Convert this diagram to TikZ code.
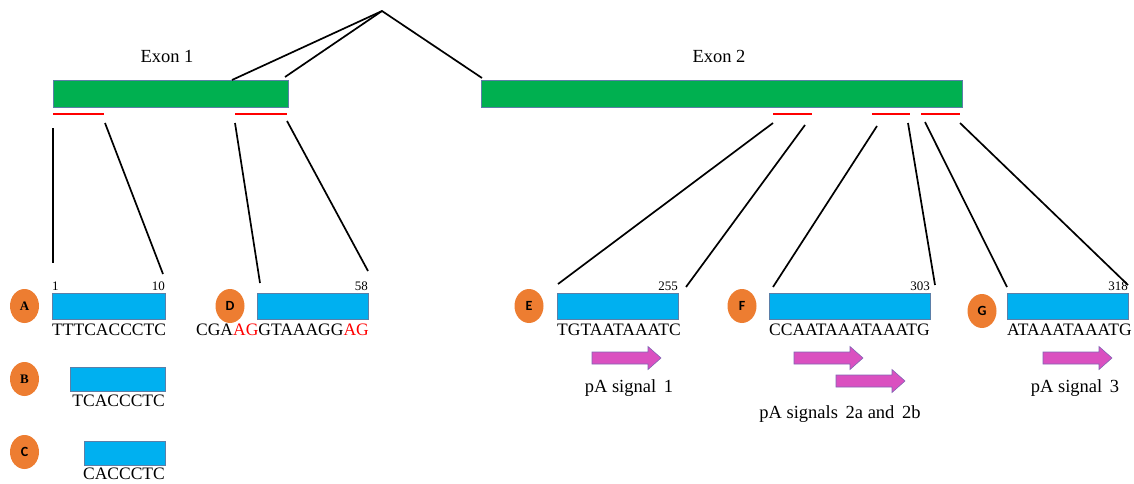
\documentclass[tikz,border=0pt]{standalone}
\usepackage{fontspec}
\setmainfont{Liberation Serif}
\newfontfamily\badgesf{Carlito}
\usetikzlibrary{shapes.geometric}
\definecolor{exongreen}{HTML}{00B050}
\definecolor{seqblue}{HTML}{00B0F0}
\definecolor{boxline}{HTML}{5B7FA8}
\definecolor{badgeorange}{HTML}{ED7D31}
\definecolor{pinkfill}{RGB}{218,80,192}
\definecolor{pinkline}{RGB}{130,100,180}
\definecolor{seqred}{HTML}{FF0000}
\tikzset{
  exonbox/.style={fill=exongreen, draw=boxline, line width=0.8pt, anchor=north west, inner sep=0, minimum height=27pt},
  seqbox/.style={fill=seqblue, draw=boxline, line width=0.8pt, anchor=north west, inner sep=0, minimum height=26pt},
  conn/.style={black, line width=1.7pt},
  redseg/.style={seqred, line width=2pt},
  badge/.style={ellipse, fill=badgeorange, minimum width=29pt, minimum height=34pt, inner sep=0, font=\badgesf\bfseries\fontsize{14}{14}\selectfont},
  badgeserif/.style={badge, font=\bfseries\fontsize{13}{13}\selectfont},
  seqtext/.style={font=\fontsize{17.5}{17.5}\selectfont, inner sep=0},
  numtext/.style={font=\fontsize{13}{13}\selectfont, inner sep=0},
  lbl/.style={font=\fontsize{18.5}{18.5}\selectfont, inner sep=0},
  pa/.pic={\filldraw[fill=pinkfill, draw=pinkline, line width=0.6pt] (0,-6) -- (56,-6) -- (56,-11.5) -- (69,0) -- (56,11.5) -- (56,6) -- (0,6) -- cycle;}
}
\begin{document}
\begin{tikzpicture}[x=1pt,y=-1pt]
\useasboundingbox (0,0) rectangle (1134,484);
% exons
\node[exonbox, minimum width=235pt] (ex1) at (53,80) {};
\node[exonbox, minimum width=481pt] (ex2) at (481,80) {};
\node[lbl, anchor=base] (ex1l) at (167,63) {Exon 1};
\node[lbl, anchor=base] (ex2l) at (719,63) {Exon 2};
% splice lines
\coordinate (apex) at (382,11);
\coordinate (s1) at (232,80);
\coordinate (s2) at (285,77);
\coordinate (s3) at (482,78);
\draw[conn] (s1) -- (apex) -- (s3);
\draw[conn] (s2) -- (apex);
% red segments
\draw[redseg] (53,114) -- (104,114);
\draw[redseg] (235,114) -- (287,114);
\draw[redseg] (773,114) -- (812,114);
\draw[redseg] (872,114) -- (910,114);
\draw[redseg] (921,114) -- (960,114);
% sequence boxes
\node[seqbox, minimum width=113pt] (bA) at (52,293) {};
\node[seqbox, minimum width=95pt, minimum height=24pt] (bB) at (70,367) {};
\node[seqbox, minimum width=81pt, minimum height=24pt] (bC) at (84,441) {};
\node[seqbox, minimum width=111pt] (bD) at (257,293) {};
\node[seqbox, minimum width=121pt] (bE) at (557,293) {};
\node[seqbox, minimum width=161pt] (bF) at (769,293) {};
\node[seqbox, minimum width=121pt] (bG) at (1007,293) {};
% connector ends
\coordinate (a1t) at (53,128);  \coordinate (a1b) at (53,263);
\coordinate (a2t) at (105,123); \coordinate (a2b) at (163,274);
\coordinate (d1t) at (235,123); \coordinate (d1b) at (260,283);
\coordinate (d2t) at (287,121); \coordinate (d2b) at (368,271);
\coordinate (e1t) at (773,123); \coordinate (e1b) at (558,284);
\coordinate (e2t) at (805,125); \coordinate (e2b) at (686,287);
\coordinate (f1t) at (877,126); \coordinate (f1b) at (773,287);
\coordinate (f2t) at (908,123); \coordinate (f2b) at (935,285);
\coordinate (g1t) at (925,122); \coordinate (g1b) at (1007,287);
\coordinate (g2t) at (960,123); \coordinate (g2b) at (1128,285);
\draw[conn] (a1t) -- (a1b);
\draw[conn] (a2t) -- (a2b);
\draw[conn] (d1t) -- (d1b);
\draw[conn] (d2t) -- (d2b);
\draw[conn] (e1t) -- (e1b);
\draw[conn] (e2t) -- (e2b);
\draw[conn] (f1t) -- (f1b);
\draw[conn] (f2t) -- (f2b);
\draw[conn] (g1t) -- (g1b);
\draw[conn] (g2t) -- (g2b);
% numbers
\node[numtext, anchor=base west] (n1) at (52,290) {1};
\node[numtext, anchor=base east] (n10) at (165,290) {10};
\node[numtext, anchor=base east] (n58) at (368,290) {58};
\node[numtext, anchor=base east] (n255) at (678,290) {255};
\node[numtext, anchor=base east] (n303) at (930,290) {303};
\node[numtext, anchor=base east] (n318) at (1128,290) {318};
% sequences
\node[seqtext, anchor=base west] (tA) at (52,335) {TTTCACCCTC};
\node[seqtext, anchor=base east] (tB) at (165,406) {TCACCCTC};
\node[seqtext, anchor=base east] (tC) at (165,479) {CACCCTC};
\node[seqtext, anchor=base east] (tD) at (369,335) {CGA\textcolor{seqred}{AG}GTAAAGG\textcolor{seqred}{AG}};
\node[seqtext, anchor=base west] (tE) at (557,335) {TGTAATAAATC};
\node[seqtext, anchor=base west] (tF) at (769,335) {CCAATAAATAAATG};
\node[seqtext, anchor=base west] (tG) at (1007,335) {ATAAATAAATG};
% badges
\node[badgeserif] (cA) at (24.5,306) {A};
\node[badgeserif] (cB) at (24.5,379) {B};
\node[badge] (cC) at (24.5,452) {C};
\node[badge] (cD) at (230,306) {D};
\node[badge] (cE) at (529,306) {E};
\node[badge] (cF) at (742,306) {F};
\node[badge] (cG) at (982,311) {G};
% pA arrows
\pic at (592,358) {pa};
\pic at (794,358) {pa};
\pic at (836,381) {pa};
\pic at (1043,358) {pa};
\node[lbl, anchor=base] (p1) at (629,392) {pA signal\, 1};
\node[lbl, anchor=base] (p2) at (840,418) {pA signals\, 2a and\, 2b};
\node[lbl, anchor=base] (p3) at (1075,392) {pA signal\, 3};
\end{tikzpicture}
\end{document}
